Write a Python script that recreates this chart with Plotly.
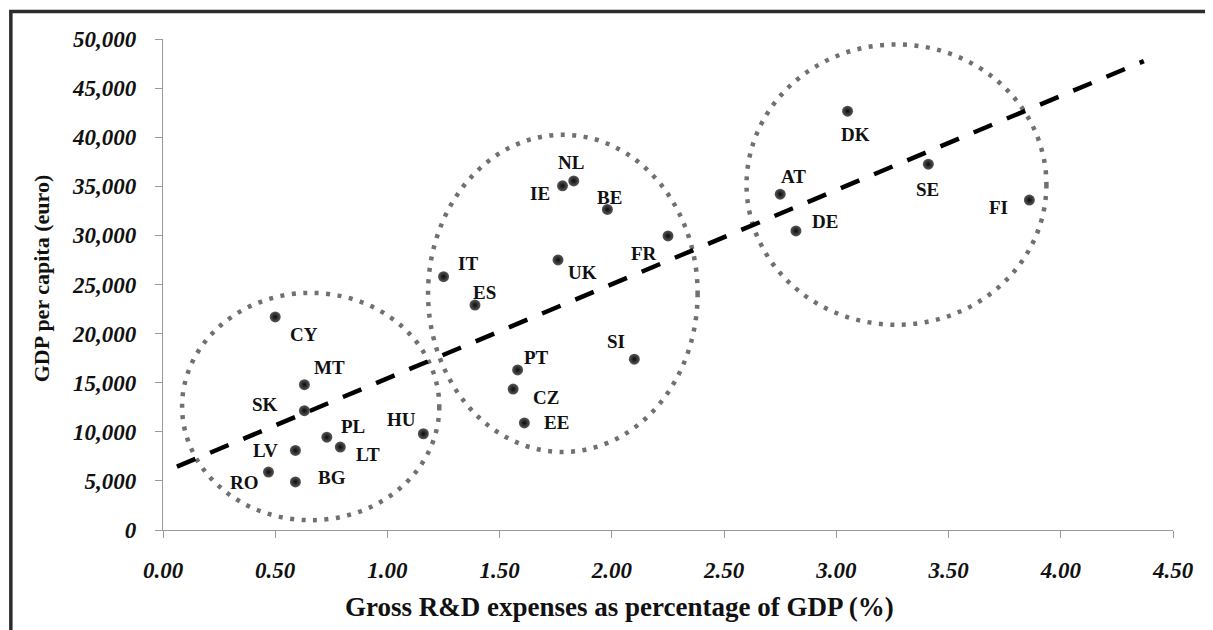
import plotly.graph_objects as go

# ---- data ----
countries = ["CY", "MT", "SK", "PL", "LT", "LV", "HU", "RO", "BG",
             "NL", "IE", "BE", "FR", "UK", "IT", "ES", "SI", "PT", "CZ", "EE",
             "DK", "AT", "DE", "SE", "FI"]
rd_pct = [0.50, 0.63, 0.63, 0.73, 0.79, 0.59, 1.16, 0.47, 0.59,
          1.83, 1.78, 1.98, 2.25, 1.76, 1.25, 1.39, 2.10, 1.58, 1.56, 1.61,
          3.05, 2.75, 2.82, 3.41, 3.86]
gdp_pc = [21700, 14800, 12150, 9450, 8450, 8100, 9800, 5900, 4900,
          35550, 35050, 32650, 29950, 27500, 25800, 22900, 17400, 16300, 14350, 10900,
          42650, 34200, 30450, 37250, 33600]

trend_x = [0.062, 4.37]
trend_y = [6450, 47750]

# cluster ellipses: x0, x1, y0, y1 (data units)
ellipse_x0 = [0.085, 1.181, 2.600]
ellipse_x1 = [1.231, 2.382, 3.936]
ellipse_y0 = [1000, 7950, 20900]
ellipse_y1 = [24150, 40250, 49450]

x_ticks = [0, 0.5, 1, 1.5, 2, 2.5, 3, 3.5, 4, 4.5]
y_ticks = list(range(0, 50001, 5000))

# label pixel offsets (styling)
label_dx = {"CY": 29, "MT": 25, "SK": -39, "PL": 26, "LT": 28, "LV": -30, "HU": -22,
            "RO": -24, "BG": 37, "NL": -3, "IE": -23, "BE": 2, "FR": -24, "UK": 24,
            "IT": 24, "ES": 10, "SI": -18, "PT": 19, "CZ": 33, "EE": 32, "DK": 8,
            "AT": 13, "DE": 29, "SE": -1, "FI": -31}
label_dy = {"CY": 18, "MT": -17, "SK": -6, "PL": -11, "LT": 7, "LV": 0, "HU": -14,
            "RO": 10, "BG": -4, "NL": -18, "IE": 8, "BE": -12, "FR": 18, "UK": 13,
            "IT": -13, "ES": -13, "SI": -18, "PT": -12, "CZ": 8, "EE": 0, "DK": 23,
            "AT": -18, "DE": -9, "SE": 25, "FI": 7}

SERIF = '"Liberation Serif", "Times New Roman", serif'

fig = go.Figure()

fig.add_trace(go.Scatter(
    x=trend_x, y=trend_y, mode="lines",
    line=dict(color="#000000", width=4.5, dash="20px,16px"),
    hoverinfo="skip", showlegend=False))

fig.add_trace(go.Scatter(
    x=rd_pct, y=gdp_pc, mode="markers", text=countries,
    marker=dict(size=11, color="#5a5a5a",
                gradient=dict(type="radial", color="#0a0a0a"),
                line=dict(width=0)),
    showlegend=False, cliponaxis=False))

shapes = []
for x0, x1, y0, y1 in zip(ellipse_x0, ellipse_x1, ellipse_y0, ellipse_y1):
    shapes.append(dict(type="circle", xref="x", yref="y", x0=x0, x1=x1, y0=y0, y1=y1,
                       line=dict(color="#707070", width=4.5, dash="4px,7.5px"),
                       layer="below"))

# page offset (body margin of the html page)
OFF = 8
# plot area in page pixels
L, R, T, B = 162.7, 1173.0, 39.0, 530.0
pw, ph = R - L, B - T

# outer frame
shapes.append(dict(type="rect", xref="paper", yref="paper",
                   x0=(10.5 - L) / pw, x1=(1240 - L) / pw,
                   y0=(B - 660) / ph, y1=(B - 11.5) / ph,
                   line=dict(color="#2b2b2b", width=3.5), fillcolor="rgba(0,0,0,0)"))

annotations = []
for c, xv, yv in zip(countries, rd_pct, gdp_pc):
    annotations.append(dict(x=xv, y=yv, xref="x", yref="y", text=c, showarrow=False,
                            xshift=label_dx[c], yshift=-label_dy[c],
                            font=dict(family=SERIF, size=19, color="#111", weight="bold")))

annotations.append(dict(xref="paper", yref="paper", x=(619.5 - L) / pw, y=(B - 607) / ph,
                        text="Gross R&D expenses as percentage of GDP (%)", showarrow=False,
                        xanchor="center", yanchor="middle",
                        font=dict(family=SERIF, size=27, color="#111", weight="bold")))
annotations.append(dict(xref="paper", yref="paper", x=(41 - L) / pw, y=(B - 278) / ph,
                        text="GDP per capita (euro)", showarrow=False, textangle=-90,
                        xanchor="center", yanchor="middle",
                        font=dict(family=SERIF, size=22, color="#111", weight="bold")))

tickfont = dict(family=SERIF, size=23, color="#111", weight="bold", style="italic")

fig.update_layout(
    width=1213 - OFF, height=630 - OFF,
    margin=dict(l=L - OFF, r=1213 - R, t=T - OFF, b=630 - B),
    paper_bgcolor="white", plot_bgcolor="white",
    shapes=shapes, annotations=annotations,
    xaxis=dict(range=[0, 4.5], tickvals=x_ticks, tickformat=".2f",
               showgrid=False, zeroline=False, showline=True, linecolor="#999",
               linewidth=1.2, ticks="outside", ticklen=7, tickcolor="#999",
               tickfont=tickfont, ticklabelstandoff=12),
    yaxis=dict(range=[0, 50000], tickvals=y_ticks, tickformat=",d",
               showgrid=False, zeroline=False, showline=True, linecolor="#999",
               linewidth=1.2, ticks="outside", ticklen=7, tickcolor="#999",
               tickfont=tickfont, ticklabelstandoff=14),
    hovermode=False,
)

fig.write_html("out.html")
